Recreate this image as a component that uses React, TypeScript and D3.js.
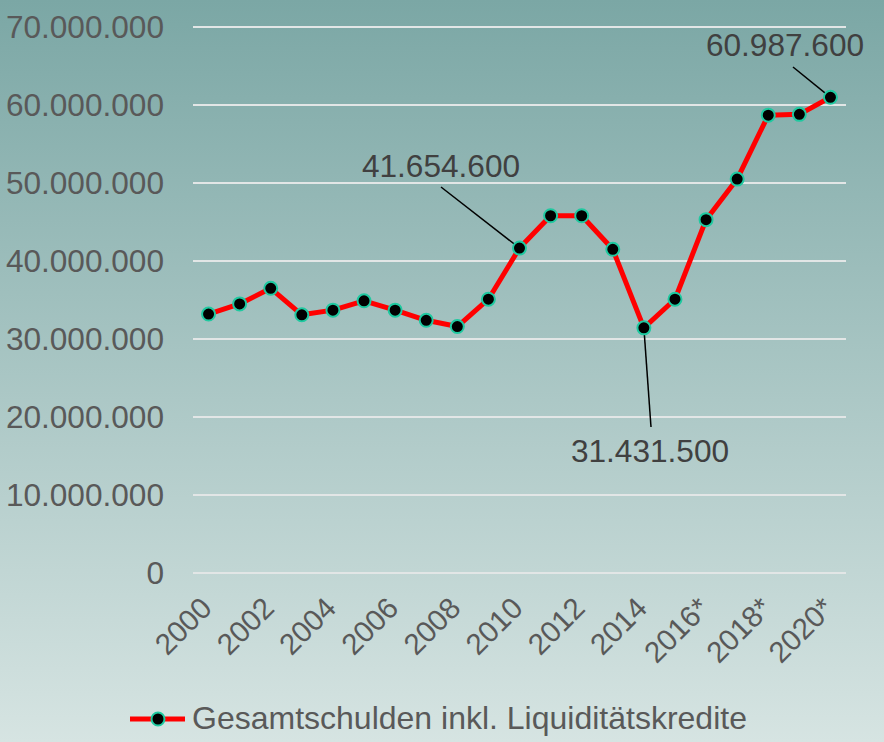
import React, { useEffect, useRef } from 'react';
import * as d3 from 'd3';

// data
const years = [
  '2000', '2001', '2002', '2003', '2004', '2005', '2006', '2007', '2008', '2009',
  '2010', '2011', '2012', '2013', '2014', '2015', '2016*', '2017*', '2018*', '2019*', '2020*',
];
const debt = [
  33200000, 34500000, 36500000, 33100000, 33700000, 34900000, 33700000, 32400000, 31600000, 35100000,
  41654600, 45800000, 45800000, 41500000, 31431500, 35100000, 45300000, 50500000, 58700000, 58800000, 60987600,
];
const yTicks = [0, 10000000, 20000000, 30000000, 40000000, 50000000, 60000000, 70000000];
const xTickLabels = ['2000', '2002', '2004', '2006', '2008', '2010', '2012', '2014', '2016*', '2018*', '2020*'];
const seriesName = 'Gesamtschulden inkl. Liquiditätskredite';
// annotated points: index, label position and leader line start
const callouts = [
  { i: 10, lx: 441, ly: 177, ex: 441, ey: 187 },
  { i: 14, lx: 650, ly: 462, ex: 651, ey: 427 },
  { i: 20, lx: 785, ly: 56, ex: 793, ey: 67 },
];

export default function App() {
  const ref = useRef<SVGSVGElement>(null);

  useEffect(() => {
    const width = 884;
    const height = 742;
    const margin = { top: 27, right: 38, bottom: 169, left: 193 };

    const de = d3.formatLocale({ decimal: ',', thousands: '.', grouping: [3], currency: ['', ' €'] });
    const fmt = de.format(',');

    const x = d3
      .scaleBand()
      .domain(years)
      .range([margin.left, width - margin.right])
      .padding(0);
    const cx = (d: string) => (x(d) as number) + x.bandwidth() / 2;

    const y = d3
      .scaleLinear()
      .domain([0, 70000000])
      .range([height - margin.bottom, margin.top]);

    const svg = d3.select(ref.current).attr('viewBox', [0, 0, width, height] as any);
    svg.selectAll('*').remove();

    const defs = svg.append('defs');
    const grad = defs
      .append('linearGradient')
      .attr('id', 'bg')
      .attr('x1', 0)
      .attr('y1', 0)
      .attr('x2', 0)
      .attr('y2', 1);
    grad.append('stop').attr('offset', '0%').attr('stop-color', '#7ba7a5');
    grad.append('stop').attr('offset', '100%').attr('stop-color', '#d6e4e2');

    svg.append('rect').attr('width', width).attr('height', height).attr('fill', 'url(#bg)');

    const font = 'Liberation Sans, Arial, sans-serif';

    // grid
    svg
      .append('g')
      .selectAll('line')
      .data(yTicks)
      .enter()
      .append('line')
      .attr('x1', margin.left)
      .attr('x2', width - margin.right)
      .attr('y1', (d) => y(d))
      .attr('y2', (d) => y(d))
      .attr('stroke', '#e2e6e6')
      .attr('stroke-width', 2);

    // y labels
    svg
      .append('g')
      .selectAll('text')
      .data(yTicks)
      .enter()
      .append('text')
      .attr('x', 164)
      .attr('y', (d) => y(d))
      .attr('dy', '0.36em')
      .attr('text-anchor', 'end')
      .attr('font-family', font)
      .attr('font-size', 31.6)
      .attr('fill', '#595959')
      .text((d) => fmt(d));

    // x labels
    svg
      .append('g')
      .selectAll('text')
      .data(xTickLabels)
      .enter()
      .append('text')
      .attr('transform', (d) => `translate(${cx(d) + 5},${height - margin.bottom + 37}) rotate(-45)`)
      .attr('text-anchor', 'end')
      .attr('font-family', font)
      .attr('font-size', 29.5)
      .attr('fill', '#595959')
      .text((d) => d);

    // callout leader lines
    svg
      .append('g')
      .selectAll('line')
      .data(callouts)
      .enter()
      .append('line')
      .attr('x1', (d) => d.ex)
      .attr('y1', (d) => d.ey)
      .attr('x2', (d) => cx(years[d.i]))
      .attr('y2', (d) => y(debt[d.i]))
      .attr('stroke', '#000')
      .attr('stroke-width', 1.5);

    // line
    const line = d3
      .line<number>()
      .x((d, i) => cx(years[i]))
      .y((d) => y(d));
    svg
      .append('path')
      .datum(debt)
      .attr('d', line)
      .attr('fill', 'none')
      .attr('stroke', '#ff0000')
      .attr('stroke-width', 5)
      .attr('stroke-linejoin', 'round');

    svg
      .append('g')
      .selectAll('circle')
      .data(debt)
      .enter()
      .append('circle')
      .attr('cx', (d, i) => cx(years[i]))
      .attr('cy', (d) => y(d))
      .attr('r', 6.5)
      .attr('fill', '#000')
      .attr('stroke', '#1fc9a0')
      .attr('stroke-width', 2);

    // callout labels
    svg
      .append('g')
      .selectAll('text')
      .data(callouts)
      .enter()
      .append('text')
      .attr('x', (d) => d.lx)
      .attr('y', (d) => d.ly)
      .attr('text-anchor', 'middle')
      .attr('font-family', font)
      .attr('font-size', 31.6)
      .attr('fill', '#404040')
      .text((d) => fmt(debt[d.i]));

    // legend
    const lg = svg.append('g').attr('transform', 'translate(130,719)');
    lg.append('line').attr('x1', 0).attr('x2', 55).attr('stroke', '#ff0000').attr('stroke-width', 5);
    lg.append('circle')
      .attr('cx', 28)
      .attr('r', 6.5)
      .attr('fill', '#000')
      .attr('stroke', '#1fc9a0')
      .attr('stroke-width', 2);
    lg.append('text')
      .attr('x', 62)
      .attr('y', -2)
      .attr('dy', '0.36em')
      .attr('font-family', font)
      .attr('font-size', 32)
      .attr('fill', '#595959')
      .text(seriesName);
  });

  return (
    <svg
      ref={ref}
      width={884}
      height={742}
      style={{ position: 'absolute', left: 0, top: 0, display: 'block' }}
    />
  );
}
